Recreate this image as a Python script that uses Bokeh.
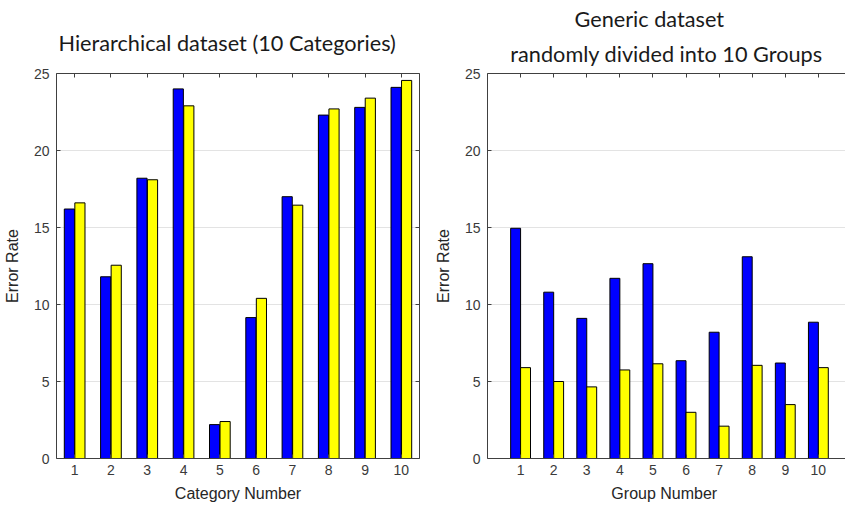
from bokeh.plotting import figure
from bokeh.layouts import row
from bokeh.models import Range1d, LinearAxis, FixedTicker, ColumnDataSource, Title
from bokeh.transform import dodge
from bokeh.embed import file_html
from bokeh.resources import INLINE

# ---- data ----
groups = [1, 2, 3, 4, 5, 6, 7, 8, 9, 10]
hier_blue = [16.2, 11.8, 18.2, 24.0, 2.2, 9.15, 17.0, 22.3, 22.8, 24.1]
hier_yellow = [16.6, 12.55, 18.1, 22.9, 2.4, 10.4, 16.45, 22.7, 23.4, 24.55]
gen_blue = [14.95, 10.8, 9.1, 11.7, 12.65, 6.35, 8.2, 13.1, 6.2, 8.85]
gen_yellow = [5.9, 5.0, 4.65, 5.75, 6.15, 3.0, 2.1, 6.05, 3.5, 5.9]
y_ticks = [0, 5, 10, 15, 20, 25]

left_title = "Hierarchical dataset (10 Categories)"
right_title_1 = "Generic dataset"
right_title_2 = "randomly divided into 10 Groups"

AX = "#404040"
TICK_FONT = "Liberation Sans"
TITLE_FONT = "Lato"


def style_axis(ax, labels=True):
    ax.axis_line_color = AX
    ax.major_tick_line_color = AX
    ax.major_tick_in = 4
    ax.major_tick_out = 0
    ax.minor_tick_line_color = None
    ax.major_label_text_font = TICK_FONT
    ax.major_label_text_font_size = "14px"
    ax.major_label_text_color = "#3a3a3a"
    ax.axis_label_text_font = TICK_FONT
    ax.axis_label_text_font_size = "16px"
    ax.axis_label_text_font_style = "normal"
    ax.axis_label_text_color = "#262626"
    if not labels:
        ax.major_label_text_font_size = "0px"
        ax.major_label_text_color = None
        ax.major_label_standoff = 0


def make(xlab, blue, yellow, x0, x1, width, bl, br, boxright, bw, off):
    src = ColumnDataSource(dict(g=groups, b=blue, y=yellow))
    p = figure(width=width, height=508, output_backend="svg", toolbar_location=None,
               x_range=Range1d(x0, x1), y_range=Range1d(0, 25), title=None,
               x_axis_location=None, y_axis_location=None,
               min_border_left=bl, min_border_right=br, min_border_top=73,
               min_border_bottom=50)
    p.outline_line_color = None
    p.background_fill_color = "white"
    p.border_fill_color = "white"
    p.xgrid.grid_line_color = None
    p.ygrid.grid_line_color = "#e3e3e3"
    p.ygrid.ticker = FixedTicker(ticks=y_ticks)

    p.vbar(x=dodge("g", -off, range=p.x_range), top="b", width=bw, source=src,
           fill_color="#0000ff", line_color="#000000", line_width=1)
    p.vbar(x=dodge("g", off, range=p.x_range), top="y", width=bw, source=src,
           fill_color="#ffff00", line_color="#000000", line_width=1)

    xt = FixedTicker(ticks=groups)
    yt = FixedTicker(ticks=y_ticks)
    bottom = LinearAxis(ticker=xt, axis_label=xlab, major_label_standoff=6,
                        axis_label_standoff=7)
    style_axis(bottom)
    p.add_layout(bottom, "below")
    top = LinearAxis(ticker=xt)
    style_axis(top, labels=False)
    p.add_layout(top, "above")
    left = LinearAxis(ticker=yt, axis_label="Error Rate", major_label_standoff=7,
                      axis_label_standoff=10)
    style_axis(left)
    p.add_layout(left, "left")
    if boxright:
        right = LinearAxis(ticker=yt)
        style_axis(right, labels=False)
        p.add_layout(right, "right")
    return p


def add_title(p, text, standoff, align, offset):
    t = Title(text=text, text_font=TITLE_FONT, text_font_size="21.7px",
              text_font_style="normal", text_color="#1a1a1a", align=align,
              standoff=standoff, offset=offset)
    p.add_layout(t, "above")


p1 = make("Category Number", hier_blue, hier_yellow, 0.5, 10.5,
          430, 56, 11, True, 0.28, 0.145)
add_title(p1, left_title, 36, "left", 2)

p2 = make("Group  Number", gen_blue, gen_yellow, 0.0, 10.82,
          415, 57, 0, False, 0.3, 0.15)
add_title(p2, right_title_2, 14, "center", 0)
add_title(p2, right_title_1, 0, "left", 87)

layout = row(p1, p2)
open("out.html", "w").write(file_html(layout, INLINE))
